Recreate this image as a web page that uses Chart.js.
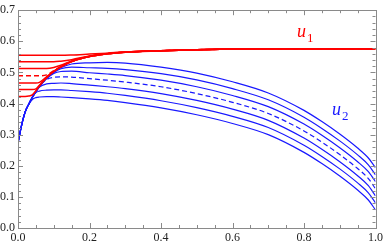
<!DOCTYPE html>
<html lang="en">
<head>
  <meta charset="UTF-8" />
  <title>u1 / u2 profiles</title>
  <script src="https://cdn.jsdelivr.net/npm/chart.js"></script>
  <style>
    body {
      margin: 0;
      background: #ffffff;
    }
    #wrap {
      width: 386px;
      height: 246px;
      position: relative;
    }
  </style>
</head>
<body>
  <div id="wrap">
    <canvas id="plot" width="386" height="246"></canvas>
  </div>

  <script>
    // shared x positions for every curve
    const xs = [0, 0.01, 0.02, 0.03, 0.04, 0.05, 0.06, 0.08, 0.1, 0.12, 0.15, 0.2, 0.25, 0.3,
                0.4, 0.5, 0.6, 0.7, 0.8, 0.85, 0.9, 0.95, 0.98, 1.0];

    // u1 (red), top to bottom; the 4th one is dashed
    const u1_a = [0.555, 0.555, 0.555, 0.555, 0.555, 0.555, 0.555, 0.555, 0.555, 0.555, 0.556, 0.559, 0.562, 0.566, 0.570, 0.573, 0.575, 0.576, 0.576, 0.576, 0.576, 0.576, 0.576, 0.576];
    const u1_b = [0.534, 0.534, 0.534, 0.534, 0.534, 0.534, 0.534, 0.534, 0.534, 0.536, 0.541, 0.553, 0.561, 0.565, 0.570, 0.573, 0.575, 0.576, 0.576, 0.576, 0.576, 0.576, 0.576, 0.576];
    const u1_c = [0.513, 0.513, 0.513, 0.513, 0.513, 0.513, 0.513, 0.513, 0.516, 0.523, 0.537, 0.552, 0.560, 0.565, 0.570, 0.573, 0.575, 0.576, 0.576, 0.576, 0.576, 0.576, 0.576, 0.576];
    const u1_d = [0.489, 0.489, 0.489, 0.489, 0.489, 0.489, 0.489, 0.492, 0.506, 0.519, 0.535, 0.551, 0.560, 0.565, 0.570, 0.573, 0.575, 0.576, 0.576, 0.576, 0.576, 0.576, 0.576, 0.576];
    const u1_e = [0.466, 0.466, 0.466, 0.466, 0.466, 0.466, 0.468, 0.486, 0.504, 0.518, 0.535, 0.551, 0.560, 0.565, 0.570, 0.573, 0.575, 0.576, 0.576, 0.576, 0.576, 0.576, 0.576, 0.576];
    const u1_f = [0.445, 0.445, 0.445, 0.445, 0.445, 0.447, 0.459, 0.484, 0.503, 0.518, 0.535, 0.551, 0.560, 0.565, 0.570, 0.573, 0.575, 0.576, 0.576, 0.576, 0.576, 0.576, 0.576, 0.576];
    const u1_g = [0.423, 0.423, 0.423, 0.424, 0.428, 0.441, 0.457, 0.483, 0.503, 0.518, 0.535, 0.551, 0.560, 0.565, 0.570, 0.573, 0.575, 0.576, 0.576, 0.576, 0.576, 0.576, 0.576, 0.576];

    // u2 (blue), top to bottom; the 4th one is dashed
    const u2_a = [0.273, 0.330, 0.373, 0.398, 0.420, 0.438, 0.455, 0.481, 0.501, 0.515, 0.527, 0.531, 0.532, 0.530, 0.517, 0.498, 0.470, 0.434, 0.378, 0.342, 0.302, 0.257, 0.225, 0.194];
    const u2_b = [0.273, 0.330, 0.373, 0.398, 0.420, 0.438, 0.455, 0.481, 0.500, 0.512, 0.517, 0.515, 0.513, 0.509, 0.496, 0.476, 0.448, 0.412, 0.356, 0.320, 0.280, 0.235, 0.203, 0.171];
    const u2_c = [0.273, 0.330, 0.373, 0.398, 0.420, 0.438, 0.455, 0.480, 0.497, 0.503, 0.504, 0.499, 0.495, 0.490, 0.475, 0.454, 0.426, 0.390, 0.334, 0.298, 0.258, 0.213, 0.181, 0.149];
    const u2_d = [0.273, 0.330, 0.373, 0.398, 0.420, 0.438, 0.455, 0.477, 0.484, 0.486, 0.485, 0.480, 0.475, 0.469, 0.454, 0.432, 0.404, 0.368, 0.312, 0.276, 0.236, 0.191, 0.159, 0.126];
    const u2_e = [0.273, 0.330, 0.373, 0.398, 0.420, 0.438, 0.453, 0.463, 0.465, 0.466, 0.464, 0.459, 0.454, 0.448, 0.432, 0.410, 0.382, 0.346, 0.289, 0.253, 0.213, 0.168, 0.136, 0.103];
    const u2_f = [0.273, 0.330, 0.373, 0.398, 0.419, 0.435, 0.440, 0.443, 0.444, 0.444, 0.442, 0.438, 0.433, 0.426, 0.409, 0.387, 0.359, 0.323, 0.266, 0.230, 0.190, 0.145, 0.113, 0.081];
    const u2_g = [0.273, 0.330, 0.373, 0.397, 0.413, 0.419, 0.421, 0.422, 0.422, 0.421, 0.419, 0.415, 0.410, 0.403, 0.386, 0.364, 0.336, 0.300, 0.243, 0.207, 0.167, 0.122, 0.090, 0.058];

    const xTicks = [0, 0.2, 0.4, 0.6, 0.8, 1.0];
    const yTicks = [0, 0.1, 0.2, 0.3, 0.4, 0.5, 0.6, 0.7];

    const RED = 'rgb(255, 0, 0)';
    const BLUE = 'rgb(25, 25, 255)';
    const AXIS = '#8a8a8a';

    function curve(ys, color, width, dashed) {
      return {
        data: xs.map((x, i) => ({ x: x, y: ys[i] })),
        borderColor: color,
        borderWidth: width,
        borderDash: dashed ? [5, 3] : [],
        pointRadius: 0,
        fill: false,
        cubicInterpolationMode: 'monotone'
      };
    }

    // red first so it is drawn on top of the blue ones
    const datasets = [
      curve(u1_a, RED, 1.5), curve(u1_b, RED, 1.5), curve(u1_c, RED, 1.5), curve(u1_d, RED, 1.5, true),
      curve(u1_e, RED, 1.5), curve(u1_f, RED, 1.5), curve(u1_g, RED, 1.5),
      curve(u2_a, BLUE, 1.2), curve(u2_b, BLUE, 1.2), curve(u2_c, BLUE, 1.2), curve(u2_d, BLUE, 1.2, true),
      curve(u2_e, BLUE, 1.2), curve(u2_f, BLUE, 1.2), curve(u2_g, BLUE, 1.2)
    ];

    // Mathematica style frame: box on all sides, ticks pointing in
    const frameTicks = {
      id: 'frameTicks',
      afterDraw(chart) {
        const { ctx, chartArea: a, scales } = chart;
        const sx = scales.x, sy = scales.y;
        ctx.save();
        ctx.strokeStyle = AXIS;
        ctx.lineWidth = 1;
        ctx.strokeRect(Math.round(a.left) + 0.5, Math.round(a.top) + 0.5,
                       Math.round(a.right - a.left), Math.round(a.bottom - a.top));
        ctx.beginPath();
        for (let v = 0; v <= 1.0001; v += 0.05) {
          const px = Math.round(sx.getPixelForValue(v)) + 0.5;
          const len = Math.abs(v / 0.2 - Math.round(v / 0.2)) < 1e-6 ? 5 : 3;
          ctx.moveTo(px, a.bottom); ctx.lineTo(px, a.bottom - len);
          ctx.moveTo(px, a.top); ctx.lineTo(px, a.top + len);
        }
        for (let v = 0; v <= 0.7001; v += 0.02) {
          const py = Math.round(sy.getPixelForValue(v)) + 0.5;
          const len = Math.abs(v / 0.1 - Math.round(v / 0.1)) < 1e-6 ? 5 : 3;
          ctx.moveTo(a.left, py); ctx.lineTo(a.left + len, py);
          ctx.moveTo(a.right, py); ctx.lineTo(a.right - len, py);
        }
        ctx.stroke();

        // curve labels
        ctx.font = 'italic 18px "Liberation Serif"';
        ctx.textBaseline = 'alphabetic';
        ctx.fillStyle = RED;
        ctx.fillText('u', 297, 37);
        ctx.font = '13px "Liberation Serif"';
        ctx.fillText('1', 307, 42);
        ctx.font = 'italic 18px "Liberation Serif"';
        ctx.fillStyle = BLUE;
        ctx.fillText('u', 332, 115);
        ctx.font = '13px "Liberation Serif"';
        ctx.fillText('2', 342, 120);
        ctx.restore();
      }
    };

    new Chart(document.getElementById('plot').getContext('2d'), {
      type: 'line',
      data: { datasets: datasets },
      options: {
        responsive: false,
        animation: false,
        layout: { padding: { top: 6, right: 8, left: 0, bottom: 0 } },
        plugins: { legend: { display: false }, tooltip: { enabled: false } },
        scales: {
          x: {
            type: 'linear',
            min: 0, max: 1,
            grid: { display: false, drawTicks: false },
            border: { display: false },
            afterFit: s => { s.height = 18; },
            afterBuildTicks: s => { s.ticks = xTicks.map(v => ({ value: v })); },
            ticks: {
              padding: 3,
              maxRotation: 0,
              color: '#222',
              font: { family: 'Liberation Serif', size: 12 },
              callback: v => v.toFixed(1)
            }
          },
          y: {
            min: 0, max: 0.7,
            grid: { display: false, drawTicks: false },
            border: { display: false },
            afterFit: s => { s.width = 18; },
            afterBuildTicks: s => { s.ticks = yTicks.map(v => ({ value: v })); },
            ticks: {
              padding: 3,
              color: '#222',
              font: { family: 'Liberation Serif', size: 12 },
              callback: v => v.toFixed(1)
            }
          }
        }
      },
      plugins: [frameTicks]
    });
  </script>
</body>
</html>
